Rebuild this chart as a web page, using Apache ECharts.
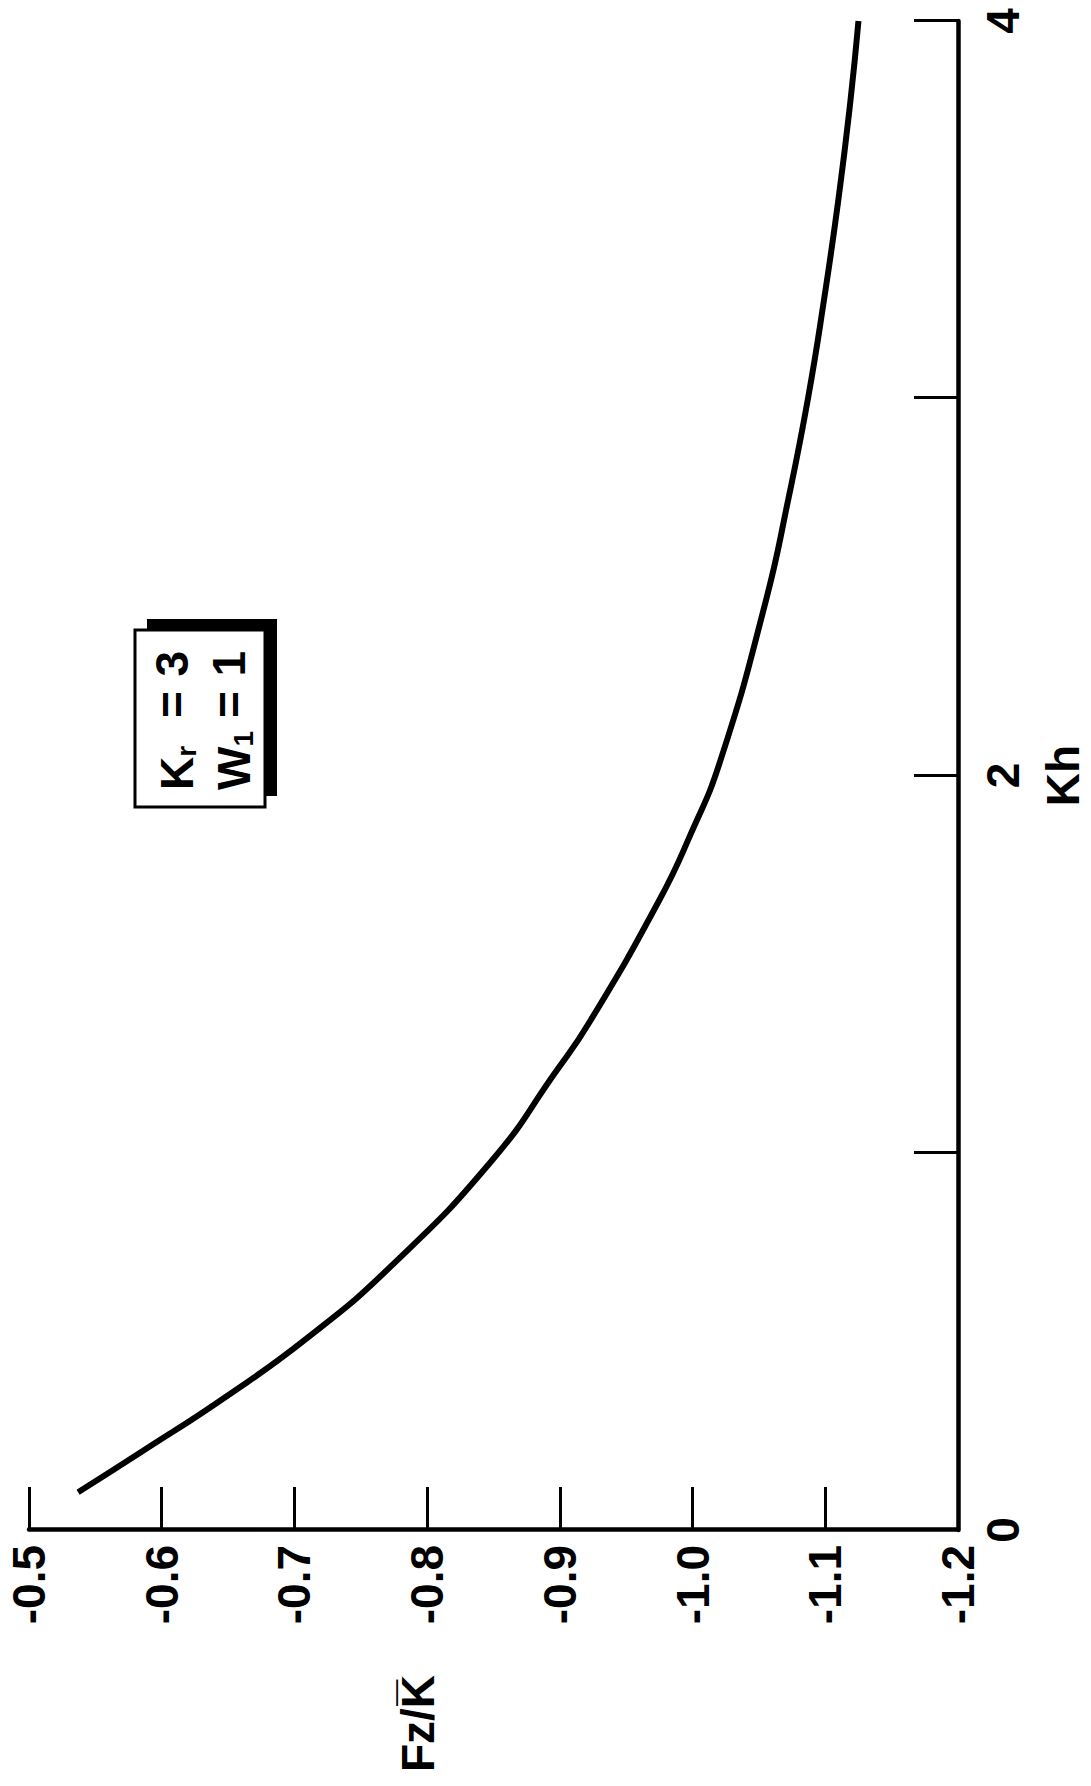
<!DOCTYPE html>
<html>
<head>
<meta charset="utf-8">
<script src="https://cdn.jsdelivr.net/npm/echarts@6/dist/echarts.min.js"></script>
<style>
html, body { margin: 0; padding: 0; width: 1091px; height: 1786px; overflow: hidden; background: #fff; }
#chart { position: absolute; left: 0; top: 1786px; width: 1786px; height: 1091px;
  transform-origin: 0 0; transform: rotate(-90deg); }
</style>
</head>
<body>
<div id="chart"></div>
<script>
// Data read from the (rotated) reference figure
const khValues = [0.10, 0.21, 0.35, 0.51, 0.70, 0.98, 1.21, 1.35, 1.67, 1.84, 2.04, 2.46, 2.73, 3.00, 3.26, 3.53, 3.79, 4.00];
const fzValues = [-0.537, -0.586, -0.647, -0.710, -0.773, -0.849, -0.896, -0.923, -0.975, -0.998, -1.021, -1.055, -1.072, -1.087, -1.099, -1.110, -1.119, -1.125];
const khTickLabels = ['0', '', '2', '', '4'];
const xName = 'Kh';
const yName = 'Fz/K\u0305';

const FONT = '"Liberation Sans", Arial, Helvetica, sans-serif';
const FS = 46;

const seriesData = khValues.map((k, i) => [k, fzValues[i]]);

const chart = echarts.init(document.getElementById('chart'), null, { renderer: 'svg' });
chart.setOption({
  animation: false,
  backgroundColor: '#ffffff',
  grid: { left: 256, right: 21, top: 29, bottom: 126, containLabel: false },
  xAxis: {
    type: 'value', min: 0, max: 4, interval: 1,
    name: xName, nameLocation: 'middle', nameGap: 82,
    nameTextStyle: { fontFamily: FONT, fontSize: FS, fontWeight: 'bold', color: '#000' },
    axisLine: { show: true, lineStyle: { color: '#000', width: 4.5 } },
    axisTick: { show: true, inside: true, length: 44, lineStyle: { color: '#000', width: 3 } },
    axisLabel: {
      show: true, margin: 22, showMinLabel: true, showMaxLabel: true,
      fontFamily: FONT, fontSize: FS, fontWeight: 'bold', color: '#000',
      formatter: function (v) { return khTickLabels[Math.round(v)] || ''; }
    },
    splitLine: { show: false }
  },
  yAxis: {
    type: 'value', min: -1.2, max: -0.5, interval: 0.1,
    axisLine: { show: true, onZero: false, lineStyle: { color: '#000', width: 4.5 } },
    axisTick: { show: true, inside: true, length: 43, lineStyle: { color: '#000', width: 3 } },
    axisLabel: {
      show: true, margin: 15, showMinLabel: true, showMaxLabel: true,
      fontFamily: FONT, fontSize: FS, fontWeight: 'bold', color: '#000',
      formatter: function (v) { return v.toFixed(1); }
    },
    splitLine: { show: false }
  },
  series: [{
    type: 'line',
    data: seriesData,
    smooth: true,
    showSymbol: false,
    symbol: 'none',
    lineStyle: { color: '#000', width: 6, cap: 'butt' },
    z: 3
  }],
  graphic: [
    {
      type: 'text', x: 111, y: 418,
      style: { text: yName, fontFamily: FONT, fontSize: FS, fontWeight: 'bold', fill: '#000',
               align: 'right', verticalAlign: 'middle' }
    },
    {
      type: 'group',
      children: [
        { type: 'rect', shape: { x: 990, y: 147, width: 177, height: 130 }, style: { fill: '#000' } },
        { type: 'rect', shape: { x: 979, y: 135, width: 177, height: 130 },
          style: { fill: '#fff', stroke: '#000', lineWidth: 3 } },
        { type: 'text', x: 996, y: 200,
          style: { text: '{m|K}{s|r}', verticalAlign: 'bottom', align: 'left',
            rich: {
              m: { fontFamily: FONT, fontSize: FS, fontWeight: 'bold', fill: '#000', color: '#000', verticalAlign: 'bottom', lineHeight: 48 },
              s: { fontFamily: FONT, fontSize: 28, fontWeight: 'bold', fill: '#000', color: '#000', verticalAlign: 'bottom', lineHeight: 48 }
            } } },
        { type: 'text', x: 1068, y: 172,
          style: { text: '=', fontFamily: FONT, fontSize: FS, fontWeight: 'bold', fill: '#000', align: 'left', verticalAlign: 'middle' } },
        { type: 'text', x: 1135, y: 172,
          style: { text: '3', fontFamily: FONT, fontSize: FS, fontWeight: 'bold', fill: '#000', align: 'right', verticalAlign: 'middle' } },
        { type: 'text', x: 996, y: 257,
          style: { text: '{m|W}{s|1}', verticalAlign: 'bottom', align: 'left',
            rich: {
              m: { fontFamily: FONT, fontSize: FS, fontWeight: 'bold', fill: '#000', color: '#000', verticalAlign: 'bottom', lineHeight: 48 },
              s: { fontFamily: FONT, fontSize: 28, fontWeight: 'bold', fill: '#000', color: '#000', verticalAlign: 'bottom', lineHeight: 48 }
            } } },
        { type: 'text', x: 1068, y: 229,
          style: { text: '=', fontFamily: FONT, fontSize: FS, fontWeight: 'bold', fill: '#000', align: 'left', verticalAlign: 'middle' } },
        { type: 'text', x: 1135, y: 229,
          style: { text: '1', fontFamily: FONT, fontSize: FS, fontWeight: 'bold', fill: '#000', align: 'right', verticalAlign: 'middle' } }
      ]
    }
  ]
});
</script>
</body>
</html>
